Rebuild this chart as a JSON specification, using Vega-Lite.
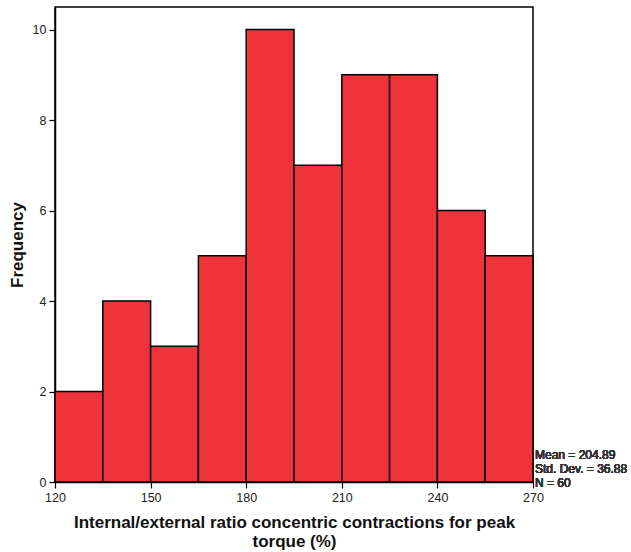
{
  "$schema": "https://vega.github.io/schema/vega-lite/v6.json",
  "autosize": {"type": "none"},
  "padding": {"left": 55, "top": 7, "right": 98, "bottom": 70},
  "width": 478,
  "height": 475,
  "background": "white",
  "config": {
    "view": {"stroke": "#000000", "strokeWidth": 1.5},
    "font": "Liberation Sans",
    "axis": {"grid": false, "domainColor": "#000000", "domainWidth": 1.5, "tickColor": "#000000", "tickWidth": 1.2, "tickSize": 6, "labelFont": "Liberation Sans", "labelFontSize": 12.5, "labelColor": "#222222", "labelFlush": false, "labelOverlap": false, "titleFont": "Liberation Sans", "titleFontWeight": "bold", "titleColor": "#111111"}
  },
  "data": {
    "values": [
      {"bin_start": 120, "bin_end": 135, "count": 2},
      {"bin_start": 135, "bin_end": 150, "count": 4},
      {"bin_start": 150, "bin_end": 165, "count": 3},
      {"bin_start": 165, "bin_end": 180, "count": 5},
      {"bin_start": 180, "bin_end": 195, "count": 10},
      {"bin_start": 195, "bin_end": 210, "count": 7},
      {"bin_start": 210, "bin_end": 225, "count": 9},
      {"bin_start": 225, "bin_end": 240, "count": 9},
      {"bin_start": 240, "bin_end": 255, "count": 6},
      {"bin_start": 255, "bin_end": 270, "count": 5}
    ]
  },
  "layer": [
    {
      "mark": {"type": "rect", "fill": "#EF333B", "stroke": "#000000", "strokeWidth": 1.5},
      "encoding": {
        "x": {
          "field": "bin_start", "type": "quantitative",
          "scale": {"domain": [120, 270], "nice": false, "zero": false},
          "axis": {"values": [120, 150, 180, 210, 240, 270], "labelPadding": 3, "titlePadding": 11, "titleFontSize": 17, "titleLineHeight": 19,
            "title": ["Internal/external ratio concentric contractions for peak", "torque (%)"]}
        },
        "x2": {"field": "bin_end"},
        "y": {
          "field": "count", "type": "quantitative",
          "scale": {"domain": [0, 10.5], "nice": false},
          "axis": {"values": [0, 2, 4, 6, 8, 10], "labelPadding": 3, "titlePadding": 6, "titleFontSize": 17, "title": "Frequency"}
        },
        "y2": {"datum": 0}
      }
    },
    {
      "mark": {"type": "text", "align": "left", "baseline": "middle", "dx": 2, "dy": -27, "font": "Liberation Sans", "fontSize": 12, "fontWeight": "normal", "lineHeight": 14, "fill": "#333333", "lineBreak": "\n",
        "text": "Mean = 204.89\nStd. Dev. = 36.88\nN = 60"},
      "encoding": {
        "x": {"datum": 270},
        "y": {"datum": 0}
      }
    }
  ]
}
